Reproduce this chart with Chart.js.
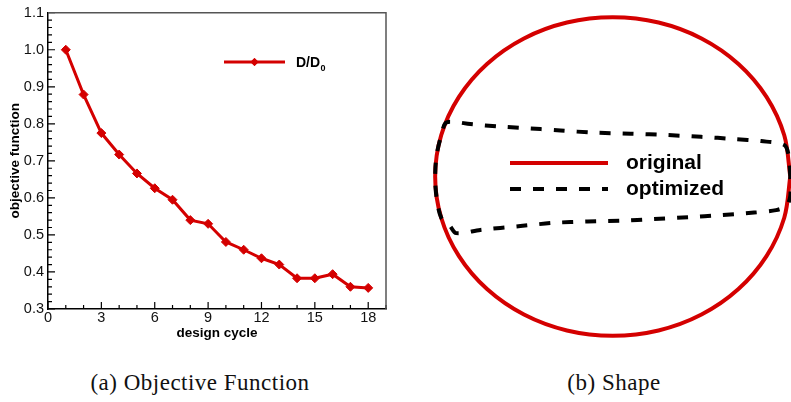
<!DOCTYPE html>
<html>
<head>
<meta charset="utf-8">
<script src="https://cdn.jsdelivr.net/npm/chart.js@4"></script>
<style>
  body { margin: 0; background: #fff; width: 791px; height: 402px; position: relative; overflow: hidden; }
  #objChart { position: absolute; left: 0; top: 0; }
  #shapeChart { position: absolute; left: 400px; top: 0; }
  .caption { position: absolute; top: 370px; font-family: "Liberation Serif", serif; font-size: 23px; letter-spacing: 0.5px; transform: translateX(-50%); white-space: nowrap; color: #111; }
</style>
</head>
<body>
<canvas id="objChart" width="400" height="345"></canvas>
<canvas id="shapeChart" width="391" height="345"></canvas>
<div class="caption" style="left:200px">(a) Objective Function</div>
<div class="caption" style="left:614px">(b) Shape</div>
<script>
// left panel: objective function history
const cycles = [1, 2, 3, 4, 5, 6, 7, 8, 9, 10, 11, 12, 13, 14, 15, 16, 17, 18];
const objective = [1.0, 0.879, 0.775, 0.717, 0.666, 0.626, 0.595, 0.540, 0.530, 0.481, 0.460, 0.437, 0.420, 0.383, 0.383, 0.394, 0.360, 0.357];
const xTicks = [0, 3, 6, 9, 12, 15, 18];
const yTicks = [0.3, 0.4, 0.5, 0.6, 0.7, 0.8, 0.9, 1.0, 1.1];
const seriesName = "D/D";
const seriesSub = "0";

// right panel: section shapes (normalised, x 0..1)
const originalX = [1.0, 0.983, 0.933, 0.854, 0.75, 0.629, 0.5, 0.371, 0.25, 0.146, 0.067, 0.017, 0.0, 0.017, 0.067, 0.146, 0.25, 0.371, 0.5, 0.629, 0.75, 0.854, 0.933, 0.983, 1.0];
const originalY = [0.0, 0.1165, 0.225, 0.318, 0.39, 0.435, 0.45, 0.435, 0.39, 0.318, 0.225, 0.1165, 0.0, -0.1165, -0.225, -0.318, -0.39, -0.435, -0.45, -0.435, -0.39, -0.318, -0.225, -0.1165, 0.0];
const optimizedX = [1.0, 0.995, 0.983, 0.918, 0.842, 0.749, 0.655, 0.551, 0.446, 0.353, 0.297, 0.184, 0.099, 0.056, 0.03, 0.017, 0.004, 0.0, 0.004, 0.017, 0.042, 0.059, 0.127, 0.24, 0.333, 0.429, 0.523, 0.616, 0.712, 0.805, 0.898, 0.96, 0.989, 1.0, 1.0];
const optimizedY = [0.0, 0.061, 0.089, 0.1, 0.106, 0.112, 0.117, 0.121, 0.124, 0.13, 0.134, 0.141, 0.148, 0.154, 0.152, 0.116, 0.06, 0.0, -0.06, -0.116, -0.14, -0.16, -0.151, -0.14, -0.131, -0.127, -0.125, -0.12, -0.115, -0.109, -0.102, -0.095, -0.083, -0.055, 0.0];
const shapeNames = ["original", "optimized"];

const red = "rgb(212,0,0)";
const sans = "'Liberation Sans', Arial, sans-serif";

const toPoints = (xs, ys) => xs.map((x, i) => ({ x: x, y: ys[i] }));

// inward tick marks + grey top/right frame, like the tecplot style
const frameTicks = {
  id: "frameTicks",
  afterDraw(chart) {
    const { ctx, chartArea: a, scales: { x, y } } = chart;
    ctx.save();
    ctx.strokeStyle = "#000";
    ctx.lineWidth = 1.2;
    ctx.beginPath();
    for (let v = 0; v <= 19; v++) {
      const px = x.getPixelForValue(v);
      const len = xTicks.includes(v) ? 7 : 4;
      ctx.moveTo(px, a.bottom);
      ctx.lineTo(px, a.bottom - len);
    }
    for (let i = 0; i <= 40; i++) {
      const py = y.getPixelForValue(0.3 + i * 0.02);
      const len = i % 5 === 0 ? 7 : 4;
      ctx.moveTo(a.left, py);
      ctx.lineTo(a.left + len, py);
    }
    ctx.stroke();
    ctx.strokeStyle = "#555";
    ctx.lineWidth = 1.5;
    ctx.beginPath();
    ctx.moveTo(a.left, a.top);
    ctx.lineTo(a.right, a.top);
    ctx.lineTo(a.right, a.bottom);
    ctx.stroke();
    ctx.restore();
  }
};

const seriesKey = {
  id: "seriesKey",
  afterDraw(chart) {
    const ctx = chart.ctx;
    const ds = chart.data.datasets[0];
    ctx.save();
    ctx.strokeStyle = ds.borderColor;
    ctx.lineWidth = ds.borderWidth;
    ctx.beginPath();
    ctx.moveTo(224, 62);
    ctx.lineTo(285, 62);
    ctx.stroke();
    ctx.fillStyle = ds.pointBackgroundColor;
    Chart.helpers.drawPoint(ctx, { pointStyle: "rectRot", radius: 4, borderWidth: 0 }, 254.5, 62);
    ctx.fill();
    ctx.fillStyle = "#000";
    ctx.textBaseline = "alphabetic";
    ctx.font = "bold 14px " + sans;
    ctx.fillText(ds.label, 296, 67);
    const w = ctx.measureText(ds.label).width;
    ctx.font = "bold 9px " + sans;
    ctx.fillText(seriesSub, 296 + w + 0.5, 71);
    ctx.restore();
  }
};

new Chart(document.getElementById("objChart"), {
  type: "line",
  data: {
    datasets: [
      {
        label: seriesName,
        data: toPoints(cycles, objective),
        borderColor: red,
        backgroundColor: red,
        borderWidth: 3,
        pointStyle: "rectRot",
        pointRadius: 4.5,
        pointBorderWidth: 1,
        pointBackgroundColor: red,
        tension: 0,
      },
    ],
  },
  options: {
    responsive: false,
    animation: false,
    layout: { padding: { top: 9, right: 14, left: 0, bottom: 0 } },
    plugins: { legend: { display: false }, tooltip: { enabled: false } },
    scales: {
      x: {
        type: "linear",
        min: 0,
        max: 19,
        grid: { drawOnChartArea: false, drawTicks: false },
        border: { color: "#000", width: 1.5 },
        ticks: { autoSkip: false, padding: 0, color: "#111", font: { family: sans, size: 14.5 }, callback: (v) => String(v) },
        afterBuildTicks: (s) => { s.ticks = xTicks.map((v) => ({ value: v })); },
        afterFit: (s) => { s.height = 36; },
        title: { display: true, text: "design cycle", color: "#000", font: { family: sans, size: 13.5, weight: "bold" }, padding: { top: 0, bottom: 4 } },
      },
      y: {
        min: 0.3,
        max: 1.1,
        grid: { drawOnChartArea: false, drawTicks: false },
        border: { color: "#000", width: 1.5 },
        ticks: { autoSkip: false, padding: 4, color: "#111", font: { family: sans, size: 14.5 }, callback: (v) => v.toFixed(1) },
        afterBuildTicks: (s) => { s.ticks = yTicks.map((v) => ({ value: v })); },
        afterFit: (s) => { s.width = 48; },
        title: { display: true, text: "objective function", color: "#000", font: { family: sans, size: 13.5, weight: "bold" }, padding: { top: 7, bottom: 0 } },
      },
    },
  },
  plugins: [frameTicks, seriesKey],
});

const shapeKey = {
  id: "shapeKey",
  afterDraw(chart) {
    const ctx = chart.ctx;
    const rows = [163, 189];
    ctx.save();
    chart.data.datasets.forEach((ds, i) => {
      ctx.strokeStyle = ds.borderColor;
      ctx.lineWidth = ds.borderWidth;
      ctx.setLineDash(ds.borderDash || []);
      ctx.beginPath();
      ctx.moveTo(110, rows[i]);
      ctx.lineTo(208, rows[i]);
      ctx.stroke();
      ctx.setLineDash([]);
      ctx.fillStyle = "#000";
      ctx.font = "bold 21px " + sans;
      ctx.textBaseline = "middle";
      ctx.fillText(ds.label, 226, rows[i]);
    });
    ctx.restore();
  }
};

new Chart(document.getElementById("shapeChart"), {
  type: "scatter",
  data: {
    datasets: [
      {
        label: shapeNames[0],
        data: toPoints(originalX, originalY),
        showLine: true,
        borderColor: red,
        borderWidth: 4,
        pointRadius: 0,
        tension: 0.34,
        order: 1,
      },
      {
        label: shapeNames[1],
        data: toPoints(optimizedX, optimizedY),
        showLine: true,
        borderColor: "#000",
        borderWidth: 4,
        borderDash: [11, 12],
        pointRadius: 0,
        tension: 0.3,
        order: 0,
      },
    ],
  },
  options: {
    responsive: false,
    animation: false,
    layout: { padding: 0 },
    plugins: { legend: { display: false }, tooltip: { enabled: false } },
    scales: {
      x: { type: "linear", display: false, min: -0.099, max: 1.002 },
      y: { type: "linear", display: false, min: -0.476, max: 0.4986 },
    },
  },
  plugins: [shapeKey],
});
</script>
</body>
</html>
